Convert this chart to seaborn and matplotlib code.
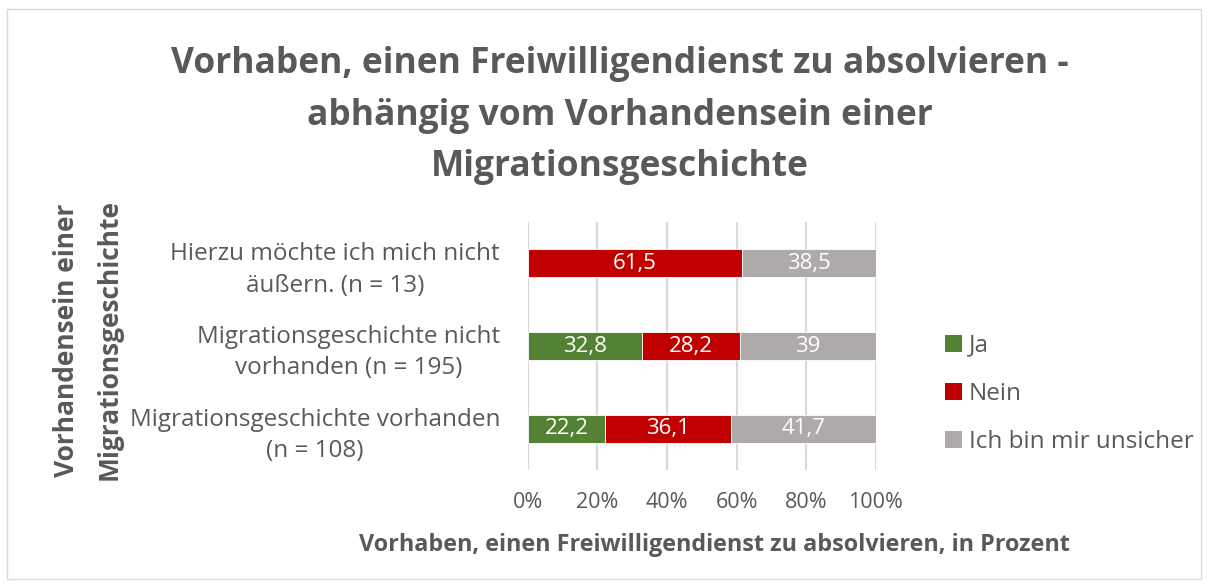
import seaborn as sns
import matplotlib.pyplot as plt
import pandas as pd
from matplotlib.patches import Rectangle, Patch

categories = [
    'Hierzu möchte ich mich nicht\näußern. (n = 13)',
    'Migrationsgeschichte nicht\nvorhanden (n = 195)',
    'Migrationsgeschichte vorhanden\n(n = 108)',
]
ja = [0, 32.8, 22.2]
nein = [61.5, 28.2, 36.1]
unsicher = [38.5, 39, 41.7]
series_names = ['Ja', 'Nein', 'Ich bin mir unsicher']
colors = ['#548235', '#C00000', '#AEAAAA']
xticks = [0, 20, 40, 60, 80, 100]

sns.set_theme(style='white')
plt.rcParams['font.family'] = ['Open Sans', 'DejaVu Sans']
text_color = '#595959'

df = pd.DataFrame({'cat': categories, 'Ja': ja, 'Nein': nein, 'Ich bin mir unsicher': unsicher})

fig = plt.figure(figsize=(12.08, 5.86), dpi=100)
ax = fig.add_axes([0.437, 0.198, 0.288, 0.423])

left = [0.0] * len(categories)
for name, col in zip(series_names, colors):
    sns.barplot(df, x=name, y='cat', orient='h', color=col, saturation=1, width=0.34,
                left=left, edgecolor='white', linewidth=0.6, ax=ax, zorder=3)
    for i, v in enumerate(df[name]):
        if v > 0:
            lbl = f'{v:g}'.replace('.', ',')
            ax.text(left[i] + v / 2, i, lbl, ha='center', va='center',
                    color='white', fontsize=16, zorder=4)
    left = [l + v for l, v in zip(left, df[name])]

ax.set_xlim(0, 100)
ax.set_ylim(2.5, -0.5)
ax.set_xticks(xticks)
ax.set_xticklabels([f'{t}%' for t in xticks], fontsize=15.5, color=text_color)
ax.tick_params(axis='x', pad=16, length=0)
ax.tick_params(axis='y', pad=20, length=0)
for t in ax.get_yticklabels():
    t.set_fontsize(17.5)
    t.set_color(text_color)
    t.set_multialignment('center')
    t.set_linespacing(1.4)
ax.grid(axis='x', color='#D9D9D9', linewidth=1.5, zorder=0)
for s in ax.spines.values():
    s.set_visible(False)
ax.set_ylabel('')
ax.set_xlabel('Vorhaben, einen Freiwilligendienst zu absolvieren, in Prozent',
              fontsize=16.8, fontweight='bold', color=text_color)
ax.xaxis.set_label_coords(0.535, -0.255)

fig.text(0.513, 0.921, 'Vorhaben, einen Freiwilligendienst zu absolvieren -\nabhängig vom Vorhandensein einer\nMigrationsgeschichte',
         ha='center', va='top', fontsize=25.5, fontweight='bold', color=text_color, linespacing=1.57)
fig.text(0.0725, 0.42, 'Vorhandensein einer\nMigrationsgeschichte', rotation=90, ha='center', va='center',
         fontsize=19, fontweight='bold', color=text_color, linespacing=1.75)

handles = [Patch(facecolor=c, edgecolor='none') for c in colors]
fig.legend(handles, series_names, loc='center left', bbox_to_anchor=(0.764, 0.328), frameon=False,
           fontsize=17.5, labelcolor=text_color, handlelength=0.7, handleheight=0.7,
           handletextpad=0.3, labelspacing=0.99)

fig.patches.append(Rectangle((0.006, 0.012), 0.988, 0.972, transform=fig.transFigure,
                             fill=False, edgecolor='#D9D9D9', linewidth=1))

fig.savefig('out.png', dpi=100)
